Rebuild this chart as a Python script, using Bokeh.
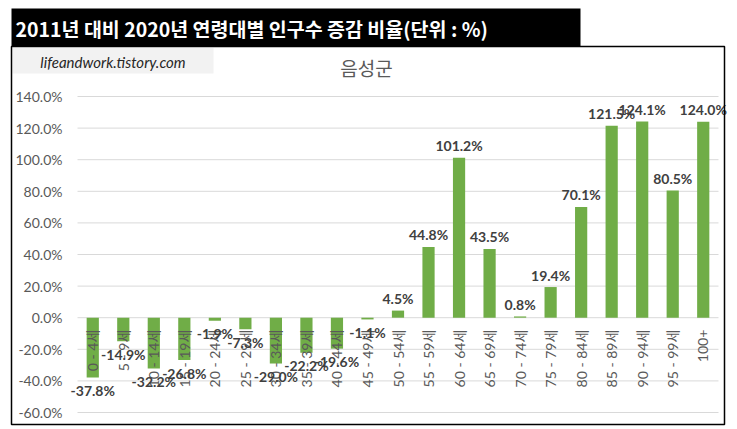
import math
from bokeh.plotting import figure
from bokeh.models import Range1d, ColumnDataSource
from bokeh.core.properties import value
from bokeh.embed import file_html
from bokeh.resources import INLINE

categories = ["0 - 4세", "5 - 9세", "10 - 14세", "15 - 19세", "20 - 24세", "25 - 29세",
              "30 - 34세", "35 - 39세", "40 - 44세", "45 - 49세", "50 - 54세", "55 - 59세",
              "60 - 64세", "65 - 69세", "70 - 74세", "75 - 79세", "80 - 84세", "85 - 89세",
              "90 - 94세", "95 - 99세", "100+"]
values = [-37.8, -14.9, -32.2, -26.8, -1.9, -7.3, -29.0, -22.2, -19.6, -1.1, 4.5, 44.8,
          101.2, 43.5, 0.8, 19.4, 70.1, 121.5, 124.1, 80.5, 124.0]
y_ticks = [-60, -40, -20, 0, 20, 40, 60, 80, 100, 120, 140]
title_text = "2011년 대비 2020년 연령대별 인구수 증감 비율(단위 : %)"
chart_title = "음성군"
watermark = "lifeandwork.tistory.com"

# ---- layout (page pixels) ----
W, H = 730, 428
FL, FR, FT, FB = 77, 718, 96, 412          # plot area edges
YMIN, YMAX = y_ticks[0], y_ticks[-1]
n = len(categories)
xu = n / (FR - FL)                          # category units per pixel
yu = (YMAX - YMIN) / (FB - FT)              # value units per pixel

p = figure(width=W, height=H,
           x_range=Range1d(-FL * xu, n + (W - FR) * xu),
           y_range=Range1d(YMIN - (H - FB) * yu, YMAX + FT * yu),
           output_backend="svg", toolbar_location=None, min_border=0)
p.extra_x_ranges = {"px": Range1d(0, W)}
p.extra_y_ranges = {"px": Range1d(H, 0)}
p.axis.visible = False
p.grid.visible = False
p.outline_line_color = None
p.background_fill_color = "white"
p.border_fill_color = "white"

xs = [i + 0.5 for i in range(n)]
src = ColumnDataSource(dict(
    x=xs, y=values, cat=categories,
    lab=[f"{v:.1f}%" for v in values],
    off=[-12 if v >= 0 else 13 for v in values],
    zero=[0] * n,
))

# horizontal gridlines + y tick labels
p.segment(x0=[FL] * len(y_ticks), x1=[FR] * len(y_ticks), y0=y_ticks, y1=y_ticks,
          x_range_name="px", line_color="#d9d9d9", line_width=1)
p.text(x=[FL - 15] * len(y_ticks), y=y_ticks, text=[f"{t:.1f}%" for t in y_ticks],
       x_range_name="px", text_align="right", text_baseline="middle",
       text_color="#595959", text_font=value("Lato"), text_font_size="14px")

# bars
p.vbar(x="x", top="y", bottom=0, width=0.4, source=src, fill_color="#70ad47", line_color=None)

# category labels (rotated, hanging below the zero line)
p.text(x="x", y="zero", text="cat", source=src, angle=math.pi / 2, text_align="right",
       text_baseline="middle", y_offset=12, text_color="#595959",
       text_font=value("Lato, 'Noto Sans CJK KR'"), text_font_size="14px")

# data labels
p.text(x="x", y="y", text="lab", source=src, y_offset="off", text_align="center",
       text_baseline="middle", text_color="#404040", text_font=value("Lato"),
       text_font_style="bold", text_font_size="14px")

# title bar, watermark, chart title, chart border
p.quad(left=[11], right=[580], top=[8], bottom=[46], x_range_name="px", y_range_name="px",
       fill_color="black", line_color=None)
p.text(x=[15], y=[28], text=[title_text], x_range_name="px", y_range_name="px",
       text_color="white", text_font=value("Noto Sans CJK KR"), text_font_style="bold",
       text_font_size="19.5px", text_align="left", text_baseline="middle")
p.quad(left=[12], right=[213], top=[47.5], bottom=[73], x_range_name="px", y_range_name="px",
       fill_color="#f2f2f2", line_color=None)
p.text(x=[112.5], y=[61], text=[watermark], x_range_name="px", y_range_name="px",
       text_color="#262626", text_font=value("Lato"), text_font_style="italic",
       text_font_size="15px", text_align="center", text_baseline="middle")
p.text(x=[366], y=[66.5], text=[chart_title], x_range_name="px", y_range_name="px",
       text_color="#595959", text_font=value("Noto Sans CJK KR"),
       text_font_size="19px", text_align="center", text_baseline="middle")
p.quad(left=[11], right=[724], top=[46], bottom=[424], x_range_name="px", y_range_name="px",
       fill_color=None, line_color="black", line_width=1.5)

open("out.html", "w").write(file_html(p, INLINE))
